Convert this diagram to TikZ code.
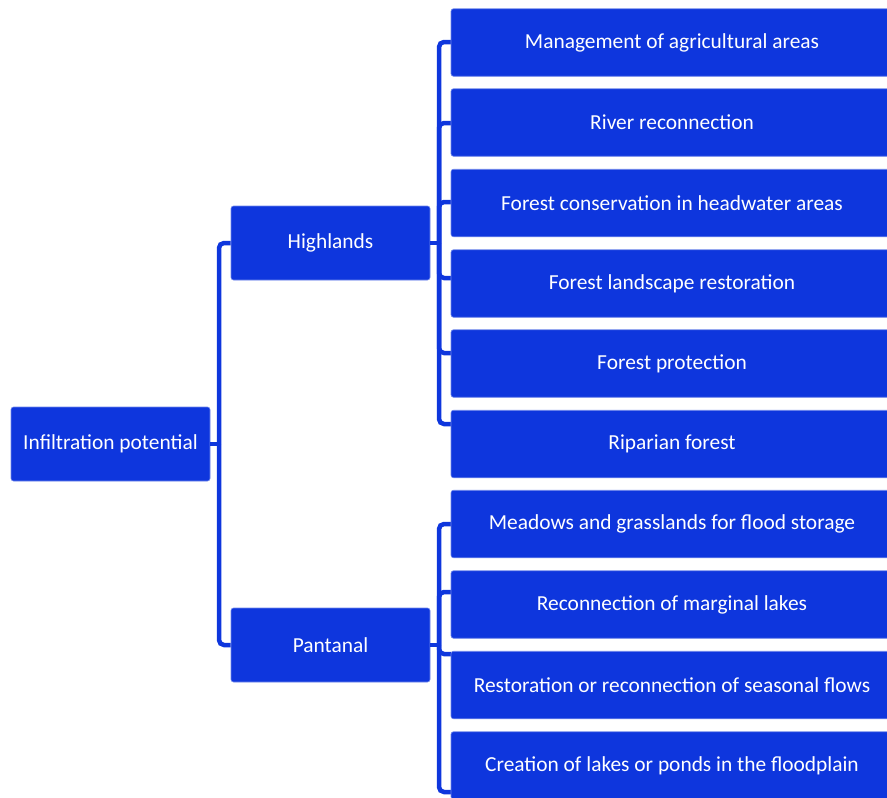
\documentclass[tikz,border=0pt]{standalone}
\usepackage{fontspec}
\setmainfont{Carlito}
\definecolor{boxblue}{RGB}{14,54,221}
\begin{document}
\begin{tikzpicture}[x=1pt,y=-1pt,
  box/.style={fill=boxblue, draw=boxblue!60!white, line width=0.6pt, rounded corners=2.5pt, text=white, inner sep=0pt, font=\fontsize{21.4}{24}\selectfont},
  leftbox/.style={box, minimum width=199pt, minimum height=74pt},
  rightbox/.style={box, minimum width=442pt, minimum height=67.5pt},
  conn/.style={draw=boxblue, line width=4.5pt, rounded corners=5pt}]
\useasboundingbox (0,0) rectangle (887,798);
\clip (0,0) rectangle (887,798);
% connector ends
\coordinate (t1) at (451,42);
\coordinate (t2) at (451,123);
\coordinate (t3) at (451,202);
\coordinate (t4) at (451,278);
\coordinate (t5) at (451,353);
\coordinate (t6) at (451,424);
\coordinate (t7) at (451,524);
\coordinate (t8) at (451,592);
\coordinate (t9) at (451,654);
\coordinate (t10) at (451,792);
\coordinate (hj) at (439,243);
\coordinate (pj) at (439,645);
\coordinate (rj) at (219,444);
\node[leftbox] (root) at (110.5,444) {Infiltration potential};
\node[leftbox] (high) at (330.5,243) {Highlands};
\node[leftbox] (pant) at (330.5,645) {Pantanal};
\draw[conn] (high.east) -- (hj);
\draw[conn] (pant.east) -- (pj);
\foreach \i in {1,...,6} {\draw[conn] (hj) |- (t\i);}
\foreach \i in {7,...,10} {\draw[conn] (pj) |- (t\i);}
\draw[conn] (root.east) -- (rj);
\draw[conn] (rj) |- (high.west);
\draw[conn] (rj) |- (pant.west);
% boxes
\node[rightbox] (r1) at (672,42.5) {Management of agricultural areas};
\node[rightbox] (r2) at (672,122.5) {River reconnection};
\node[rightbox] (r3) at (672,203) {Forest conservation in headwater areas};
\node[rightbox] (r4) at (672,283.5) {Forest landscape restoration};
\node[rightbox] (r5) at (672,363.5) {Forest protection};
\node[rightbox] (r6) at (672,444) {Riparian forest};
\node[rightbox] (r7) at (672,524) {Meadows and grasslands for flood storage};
\node[rightbox] (r8) at (672,604.5) {Reconnection of marginal lakes};
\node[rightbox] (r9) at (672,685) {Restoration or reconnection of seasonal flows};
\node[rightbox] (r10) at (672,765.5) {Creation of lakes or ponds in the floodplain};
\end{tikzpicture}
\end{document}
